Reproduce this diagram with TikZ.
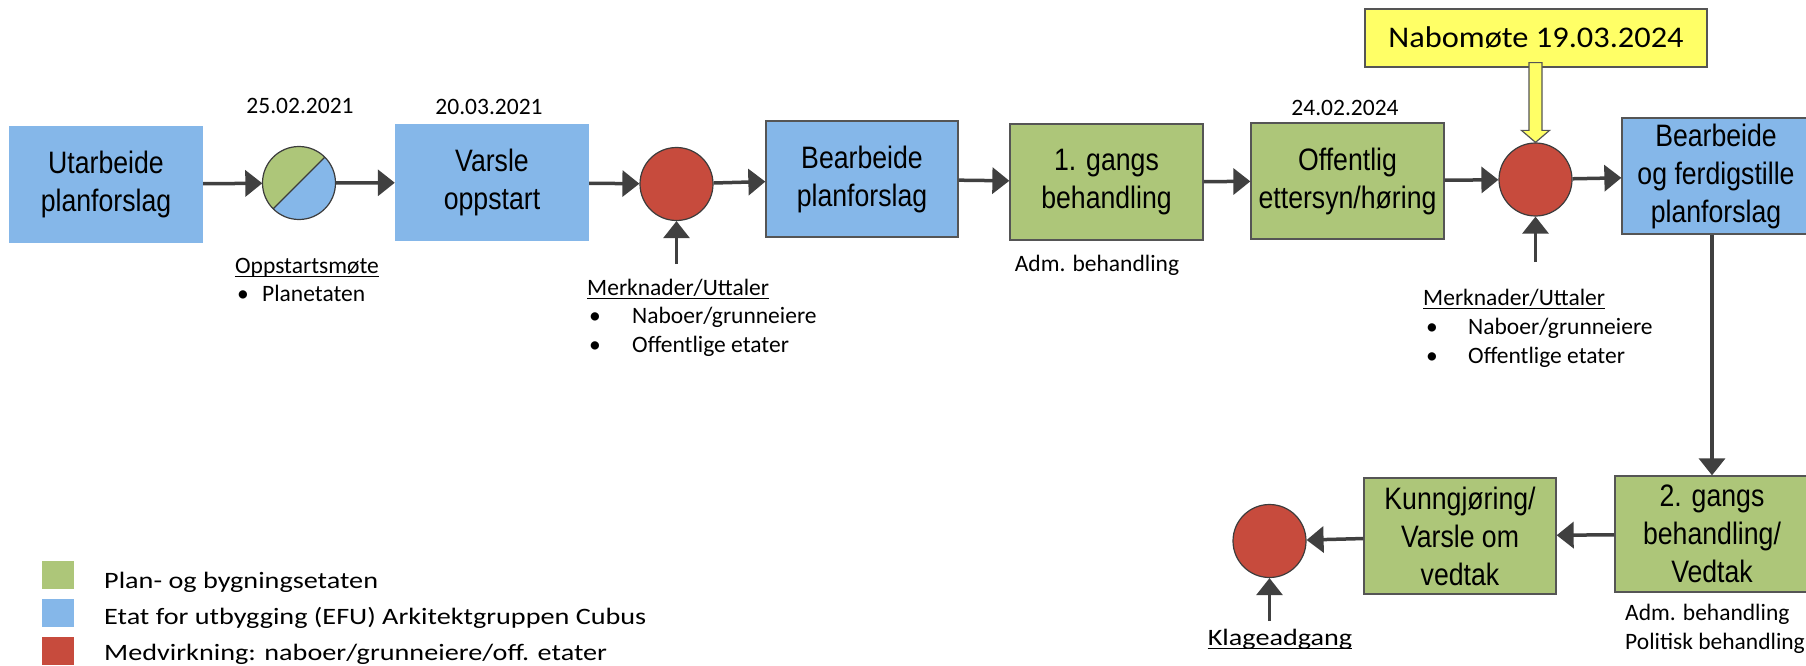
\documentclass[tikz,border=0pt]{standalone}
\usepackage{fontspec}
\setmainfont{Carlito}
\newfontfamily\boxfont[FakeStretch=0.86]{Liberation Sans}
\newfontfamily\legfont[FakeStretch=1.2]{Carlito}
\newfontfamily\nabofont[FakeStretch=1.08]{Carlito}
\usetikzlibrary{arrows.meta,calc}
\definecolor{cblue}{RGB}{133,183,233}
\definecolor{cgreen}{RGB}{173,198,121}
\definecolor{cred}{RGB}{199,75,61}
\definecolor{cyellow}{RGB}{255,255,102}
\definecolor{cgray}{RGB}{85,85,85}
\definecolor{cdark}{RGB}{60,60,60}
\definecolor{carrow}{RGB}{64,64,64}
\begin{document}
\begin{tikzpicture}[x=1pt,y=-1pt,
  box/.style={minimum width=193pt,minimum height=116pt,inner sep=0pt,align=center,font=\boxfont\fontsize{31}{38}\selectfont},
  bbox/.style={box,fill=cblue},
  bboxo/.style={box,fill=cblue,draw=cgray,line width=1.3pt},
  gbox/.style={box,fill=cgreen,draw=cgray,line width=1.3pt},
  dot/.style={circle,minimum size=73pt,inner sep=0pt,fill=cred,draw=cdark,line width=1.2pt},
  arr/.style={draw=carrow,line width=3.5pt,-{Triangle[length=17pt,width=26pt]}},
  uparr/.style={arr,line width=3pt},
  small/.style={inner sep=0pt,font=\fontsize{23.5}{28.5}\selectfont},
  uline/.style={line width=1.2pt},
  legsq/.style={minimum width=32pt,minimum height=28pt,inner sep=0pt},
  legtxt/.style={inner sep=0pt,anchor=base west,font=\legfont\fontsize{23.5}{28}\selectfont}
]
\useasboundingbox (0,0) rectangle (1806,666);

% process boxes
\node[bbox,minimum width=194pt,minimum height=117pt] (b1) at (106,184.5) {Utarbeide\\planforslag};
\node[circle,minimum size=73pt,inner sep=0pt] (c1) at (299,183) {};
\node[bbox,minimum width=194pt,minimum height=117pt] (b2) at (492,182.5) {Varsle\\oppstart};
\node[dot] (c2) at (676.5,184) {};
\node[bboxo,minimum width=192pt] (b3) at (862,179) {Bearbeide\\planforslag};
\node[gbox] (b4) at (1106.5,182) {1. gangs\\behandling};
\node[gbox] (b5) at (1347.5,181) {Offentlig\\ettersyn/høring};
\node[dot] (c3) at (1535.5,179.5) {};
\node[bboxo,minimum width=188pt] (b6) at (1716,176) {Bearbeide\\og ferdigstille\\planforslag};
\node[gbox,minimum width=194pt] (b7) at (1712,534) {2. gangs\\behandling/\\Vedtak};
\node[gbox,minimum width=192pt] (b8) at (1460,536) {Kunngjøring/\\Varsle om\\vedtak};
\node[dot] (c4) at (1269.5,541) {};
\node[draw=cgray,line width=1.3pt,fill=cyellow,minimum width=342pt,minimum height=58pt,inner sep=0pt,font=\nabofont\fontsize{30}{36}\selectfont] (nabo) at (1536,38) {Nabomøte 19.03.2024};

% split circle
\begin{scope}
  \clip (c1.center) circle[radius=36.5];
  \fill[cblue] (c1.center) circle[radius=36.5];
  \fill[cgreen] (c1.north east) -- (c1.south west) -- ++(-80,-80) -- ($(c1.north east)+(-80,-80)$) -- cycle;
\end{scope}
\draw[cdark,line width=1.2pt] (c1.center) circle[radius=36.5];
\draw[cdark,line width=1.2pt] (c1.north east) -- (c1.south west);

% connectors
\draw[arr] (b1) -- (c1);
\draw[arr] (c1) -- (b2);
\draw[arr] (b2) -- (c2);
\draw[arr] (c2) -- (b3);
\draw[arr] (b3) -- (b4);
\draw[arr] (b4) -- (b5);
\draw[arr] (b5) -- (c3);
\draw[arr] (c3) -- (b6);
\draw[arr] (b6.south -| b7.north) -- (b7.north);
\draw[arr] (b7) -- (b8);
\draw[arr] (b8) -- (c4);
\coordinate (u2) at (676.5,264);
\coordinate (u3) at (1535.5,262);
\coordinate (u4) at (1269.5,621);
\draw[uparr] (u2) -- (c2);
\draw[uparr] (u3) -- (c3);
\draw[uparr] (u4) -- (c4);

% yellow block arrow
\draw[fill=cyellow,draw=cgray,line width=1.2pt]
  ($(nabo.south -| c3.north)+(-6.5,-5)$) -- ++(13,0)
  -- ($(c3.north)+(6.5,-12)$) -- ++(7.5,0) -- (c3.north)
  -- ($(c3.north)+(-14,-12)$) -- ++(7.5,0) -- cycle;

% dates
\node[small,anchor=base] (d1) at (300,113.5) {25.02.2021};
\node[small,anchor=base] (d2) at (489,114.5) {20.03.2021};
\node[small,anchor=base] (d3) at (1345,115.5) {24.02.2024};

% Oppstartsmøte
\node[small,anchor=base] (t1) at (307,273) {Oppstartsmøte};
\draw[uline] ($(t1.base west)+(0,3.5)$) -- ($(t1.base east)+(0,3.5)$);
\node[small,anchor=base west] (t1b) at (237,301) {•};
\node[small,anchor=base west] (t1c) at (262,301) {Planetaten};

% Merknader 1
\node[small,anchor=base west] (m1) at (587,295) {Merknader/Uttaler};
\draw[uline] ($(m1.base west)+(0,3.5)$) -- ($(m1.base east)+(0,3.5)$);
\node[small,anchor=base west] (m1a) at (589,323.5) {•};
\node[small,anchor=base west] (m1b) at (632,323.5) {Naboer/grunneiere};
\node[small,anchor=base west] (m1c) at (589,352) {•};
\node[small,anchor=base west] (m1d) at (632,352) {Offentlige etater};

% Merknader 2
\node[small,anchor=base west] (m2) at (1423,305) {Merknader/Uttaler};
\draw[uline] ($(m2.base west)+(0,3.5)$) -- ($(m2.base east)+(0,3.5)$);
\node[small,anchor=base west] (m2a) at (1426,334) {•};
\node[small,anchor=base west] (m2b) at (1468,334) {Naboer/grunneiere};
\node[small,anchor=base west] (m2c) at (1426,363) {•};
\node[small,anchor=base west] (m2d) at (1468,363) {Offentlige etater};

% behandling notes
\node[small,anchor=base] (a1) at (1097,271) {Adm. behandling};
\node[small,anchor=base west] (a2) at (1625,620) {Adm. behandling};
\node[small,anchor=base west] (a3) at (1625,649) {Politisk behandling};

% Klageadgang
\node[inner sep=0pt,anchor=base,font=\legfont\fontsize{23.5}{28}\selectfont] (k1) at (1280,645) {Klageadgang};
\draw[uline] ($(k1.base west)+(0,3.5)$) -- ($(k1.base east)+(0,3.5)$);

% legend
\node[legsq,fill=cgreen] (l1) at (58,575) {};
\node[legsq,fill=cblue] (l2) at (58,613) {};
\node[legsq,fill=cred] (l3) at (58,651) {};
\node[legtxt] (lt1) at (104,588) {Plan- og bygningsetaten};
\node[legtxt] (lt2) at (104,624) {Etat for utbygging (EFU) Arkitektgruppen Cubus};
\node[legtxt] (lt3) at (104,660) {Medvirkning: naboer/grunneiere/off. etater};
\end{tikzpicture}
\end{document}
